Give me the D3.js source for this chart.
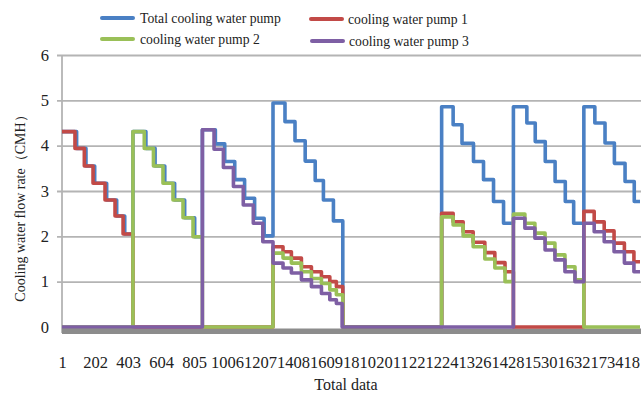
<!DOCTYPE html>
<html>
<head>
<meta charset="utf-8">
<script src="https://cdn.jsdelivr.net/npm/d3@7"></script>
<style>
  body { margin: 0; background: #fff; }
  svg { display: block; }
</style>
</head>
<body>
<svg id="chart" width="641" height="394"></svg>
<script>
// ---- data -------------------------------------------------------------
const seriesNames = ["Total cooling water pump", "cooling water pump 1", "cooling water pump 2", "cooling water pump 3"];
const yTicks = [0, 1, 2, 3, 4, 5, 6];
const xTickLabels = [1, 202, 403, 604, 805, 1006, 1207, 1408, 1609, 1810, 2011, 2212, 2413, 2614, 2815, 3016, 3217, 3418];
const lastIndex = 3521;

// Each series is a step signal: the sample index where a level begins, and that level (CMH).
const totalStarts = [1, 90, 147, 200, 273, 334, 383,
  433, 512, 568, 627, 687, 748, 809,
  856, 935, 992, 1053, 1113, 1174, 1232,
  1286, 1359, 1420, 1482, 1543, 1593, 1654, 1711,
  2313, 2383, 2437, 2507, 2568, 2629, 2690,
  2750, 2832, 2883, 2944, 3004, 3066, 3117,
  3179, 3246, 3308, 3365, 3430, 3486];
const totalValues = [4.31, 3.94, 3.55, 3.17, 2.80, 2.45, 2.05,
  4.31, 3.94, 3.55, 3.17, 2.80, 2.41, 1.99,
  4.35, 4.04, 3.65, 3.25, 2.84, 2.40, 2.01,
  4.94, 4.53, 4.11, 3.66, 3.23, 2.80, 2.34, 0,
  4.86, 4.46, 4.05, 3.65, 3.25, 2.77, 2.29,
  4.86, 4.50, 4.09, 3.65, 3.21, 2.77, 2.29,
  4.86, 4.50, 4.06, 3.61, 3.21, 2.77];

const pump1Starts = [1, 80, 137, 190, 263, 324, 373, 433,
  1286, 1347, 1398, 1459, 1520, 1581, 1632, 1672, 1711,
  2313, 2383, 2444, 2505, 2576, 2637, 2699, 2750,
  3179, 3242, 3303, 3363, 3426, 3484];
const pump1Values = [4.31, 3.94, 3.55, 3.17, 2.80, 2.45, 2.05, 0,
  1.77, 1.66, 1.52, 1.33, 1.22, 1.11, 1.00, 0.89, 0,
  2.51, 2.32, 2.10, 1.87, 1.64, 1.42, 1.22, 0,
  2.55, 2.32, 2.12, 1.85, 1.66, 1.44];

const pump2Starts = [1, 433, 502, 558, 616, 677, 738, 799, 856,
  1286, 1347, 1398, 1459, 1520, 1581, 1632, 1672, 1711,
  2313, 2383, 2444, 2505, 2576, 2637, 2699,
  2750, 2820, 2881, 2943, 3003, 3064, 3125, 3179];
const pump2Values = [0, 4.31, 3.94, 3.55, 3.17, 2.80, 2.41, 1.99, 0,
  1.63, 1.52, 1.41, 1.22, 1.07, 0.96, 0.82, 0.71, 0,
  2.43, 2.25, 2.01, 1.77, 1.50, 1.30, 1.00,
  2.49, 2.29, 2.07, 1.85, 1.59, 1.33, 1.04, 0];

const pump3Starts = [1, 856, 927, 984, 1045, 1105, 1166, 1224,
  1286, 1347, 1398, 1459, 1520, 1581, 1632, 1672, 1707,
  2750, 2820, 2881, 2943, 3003, 3064, 3125,
  3179, 3242, 3303, 3363, 3426, 3484];
const pump3Values = [0, 4.35, 3.92, 3.52, 3.10, 2.69, 2.29, 1.88,
  1.41, 1.30, 1.19, 1.04, 0.89, 0.74, 0.60, 0.52, 0,
  2.40, 2.18, 1.96, 1.70, 1.48, 1.22, 1.00,
  2.29, 2.10, 1.88, 1.66, 1.41, 1.22];

const seriesColors = ["#4a80c4", "#c24a47", "#9ac058", "#7e5fa4"];

// ---- layout ------------------------------------------------------------
const svg = d3.select("#chart");
const plotLeft = 62, plotRight = 640, plotTop = 55, plotBottom = 327;
const serif = "'Liberation Serif', 'Times New Roman', serif";

const x = d3.scaleLinear().domain([1, lastIndex]).range([plotLeft, plotRight]);
const y = d3.scaleLinear().domain([0, 6]).range([plotBottom, plotTop]);

// horizontal gridlines with short outside tick marks
const grid = svg.append("g")
  .attr("transform", `translate(${plotLeft},0)`)
  .call(d3.axisLeft(y).tickValues(yTicks.filter(d => d > 0)).tickSize(-(641 - plotLeft)).tickFormat(""));
grid.select(".domain").remove();
grid.selectAll(".tick line").attr("stroke", "#b4b4b4").attr("stroke-width", 1.8).attr("x1", -5);

// vertical value axis line
svg.append("line")
  .attr("x1", plotLeft).attr("x2", plotLeft)
  .attr("y1", plotTop).attr("y2", plotBottom + 6)
  .attr("stroke", "#b4b4b4").attr("stroke-width", 1.8);

// y tick labels
const yAxis = svg.append("g")
  .attr("transform", `translate(${plotLeft},0)`)
  .call(d3.axisLeft(y).tickValues(yTicks).tickSize(0).tickPadding(13).tickFormat(d3.format("d")));
yAxis.select(".domain").remove();
yAxis.selectAll("text").attr("font-family", serif).attr("font-size", 16.5).attr("fill", "#222");

// thick grey category axis band
svg.append("rect")
  .attr("x", plotLeft).attr("y", plotBottom + 1.5)
  .attr("width", 641 - plotLeft).attr("height", 5.5)
  .attr("fill", "#8c8c8c");

// x tick labels
const xAxis = svg.append("g")
  .attr("transform", `translate(0,${plotBottom})`)
  .call(d3.axisBottom(x).tickValues(xTickLabels).tickSize(0).tickPadding(29).tickFormat(d3.format("d")));
xAxis.select(".domain").remove();
xAxis.selectAll("text").attr("font-family", serif).attr("font-size", 16.5).attr("fill", "#222");

// ---- series --------------------------------------------------------------
function stepPoints(starts, values) {
  const pts = starts.map((s, i) => [s, values[i]]);
  pts.push([lastIndex, values[values.length - 1]]);
  return pts;
}
const seriesData = [
  stepPoints(totalStarts, totalValues),
  stepPoints(pump1Starts, pump1Values),
  stepPoints(pump2Starts, pump2Values),
  stepPoints(pump3Starts, pump3Values)
];
const line = d3.line().x(d => x(d[0])).y(d => y(d[1])).curve(d3.curveStepAfter);

svg.append("g").selectAll("path")
  .data(seriesData)
  .join("path")
  .attr("d", line)
  .attr("fill", "none")
  .attr("stroke", (d, i) => seriesColors[i])
  .attr("stroke-width", 3.6)
  .attr("stroke-linejoin", "round");

// ---- axis titles -----------------------------------------------------------
svg.append("text")
  .attr("x", 346).attr("y", 390)
  .attr("text-anchor", "middle")
  .attr("font-family", serif).attr("font-size", 16).attr("fill", "#222")
  .text("Total data");

svg.append("text")
  .attr("transform", "translate(25,205) rotate(-90)")
  .attr("text-anchor", "middle")
  .attr("font-family", serif).attr("font-size", 14).attr("fill", "#222")
  .text("Cooling water flow rate（CMH）");

// ---- legend -----------------------------------------------------------------
const legendPos = [[102, 18], [311, 19], [102, 39], [312, 41]];
const legend = svg.append("g").selectAll("g")
  .data(seriesNames)
  .join("g")
  .attr("transform", (d, i) => `translate(${legendPos[i][0]},${legendPos[i][1]})`);
legend.append("line")
  .attr("x1", 0).attr("x2", 31)
  .attr("stroke", (d, i) => seriesColors[i])
  .attr("stroke-width", 4).attr("stroke-linecap", "round");
legend.append("text")
  .attr("x", (d, i) => i % 2 === 0 ? 38 : 37)
  .attr("y", 5)
  .attr("font-family", serif).attr("font-size", 13.7).attr("fill", "#222")
  .text(d => d);
</script>
</body>
</html>
